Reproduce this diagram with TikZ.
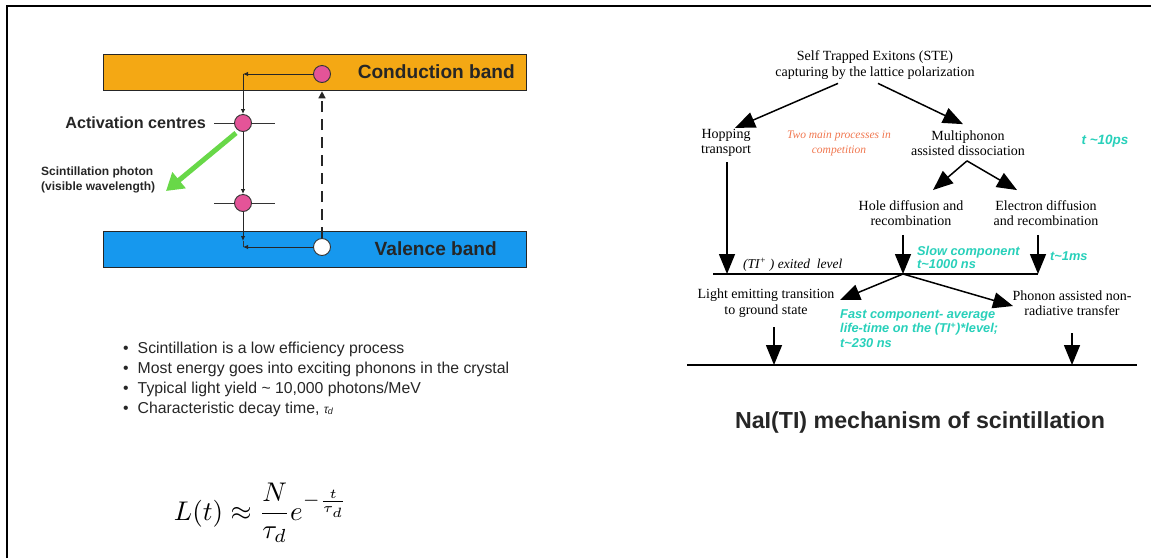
\documentclass[tikz,border=0pt]{standalone}
\usepackage{fontspec}
\setmainfont{Liberation Serif}
\setsansfont{Liberation Sans}
\usetikzlibrary{arrows.meta,calc}
\definecolor{orangeb}{RGB}{244,168,20}
\definecolor{blueb}{RGB}{22,152,238}
\definecolor{pinkc}{RGB}{228,84,152}
\definecolor{greenc}{RGB}{104,216,72}
\definecolor{tealc}{RGB}{40,208,186}
\definecolor{orangetxt}{RGB}{240,118,78}
\tikzset{
  band/.style={draw=black!85, line width=1.3pt, anchor=north west, inner sep=0pt, minimum width=423pt, minimum height=36pt},
  dot/.style={circle, draw=black!80, line width=0.9pt, minimum size=17pt, inner sep=0pt},
  lvl/.style={line width=0.9pt, black!80},
  elec/.style={line width=0.9pt, black!85, -{Latex[length=5pt,width=4.5pt]}},
  bigarrow/.style={line width=1.5pt, -{Triangle[length=20pt,width=16pt]}},
  serif/.style={font=\fontsize{14}{15.5}\selectfont, align=center, inner sep=0pt},
  tealtxt/.style={text=tealc, font=\sffamily\bfseries\itshape\fontsize{12.8}{13}\selectfont, align=left, inner sep=0pt},
  bullet/.style={font=\sffamily\fontsize{15.8}{18}\selectfont, anchor=west, inner sep=0pt, text=black!85},
  bandtxt/.style={font=\sffamily\bfseries\fontsize{19.1}{21}\selectfont, anchor=east, inner sep=0pt, text=black!85},
}
\begin{document}
\begin{tikzpicture}[x=1pt,y=-1pt]
\useasboundingbox (0,0) rectangle (1151,558);
% frame
\draw[line width=2pt] (7,558) -- (7,6) -- (1151,6);

% ---------- left: band diagram ----------
\node[band, fill=orangeb] (cb) at (103,54) {};
\node[band, fill=blueb] (vb) at (103,231) {};
\node[bandtxt] (cbt) at (515,72) {Conduction band};
\node[bandtxt] (vbt) at (497,249) {Valence band};

\coordinate (c1) at (243,74);
\coordinate (c2) at (243,247);
\coordinate (c3) at (243,241);
\coordinate (l1a) at (214,123);
\coordinate (l1b) at (275,123);
\coordinate (l2a) at (214,203);
\coordinate (l2b) at (275,203);
\draw[lvl] (l1a) -- (l1b);
\draw[lvl] (l2a) -- (l2b);

\node[dot, fill=pinkc] (e1) at (322,74) {};
\node[dot, fill=pinkc] (a1) at (243,123) {};
\node[dot, fill=pinkc] (a2) at (243,203) {};
\node[dot, fill=white] (h1) at (322,247) {};

\draw[elec] (e1.west) -- (c1);
\draw[elec] (c1) -- (a1.north);
\draw[elec] (a1.south) -- (a2.north);
\draw[elec] (a2.south) -- (c3);
\draw[lvl] (c3) -- (c2);
\draw[elec] (h1.west) -- (c2);
\draw[line width=1.4pt, black!85, dash pattern=on 11pt off 7pt, -{Triangle[length=7pt,width=7pt]}] (h1.north) -- (h1.north |- cb.south);

\node[font=\sffamily\bfseries\fontsize{16.2}{18}\selectfont, anchor=east, inner sep=0pt, text=black!85] (act) at (206,123) {Activation centres};
\coordinate (gtip) at (166,191);
\draw[line width=5pt, greenc, -{Triangle[length=17pt,width=20pt]}] ($(a1)+(-7,10)$) -- (gtip);
\node[font=\sffamily\bfseries\fontsize{12}{15}\selectfont, anchor=west, align=left, inner sep=0pt, text=black!85] (ph) at (41,180) {Scintillation photon\\(visible wavelength)};

% bullets
\node[bullet] (b1) at (123,349) {\textbullet\hspace{9pt}Scintillation is a low efficiency process};
\node[bullet] (b2) at (123,369) {\textbullet\hspace{9pt}Most energy goes into exciting phonons in the crystal};
\node[bullet] (b3) at (123,389) {\textbullet\hspace{9pt}Typical light yield \textasciitilde\ 10,000 photons/MeV};
\node[bullet] (b4) at (123,409) {\textbullet\hspace{9pt}Characteristic decay time, {\itshape\fontsize{12}{12}\selectfont τ\kern-0.5pt\raisebox{-1.5pt}{\fontsize{9}{9}\selectfont d}}};

\node[scale=2.7, inner sep=0pt] (eq) at (261,513) {$\displaystyle L(t)\approx\frac{N}{\tau_d}e^{-\frac{t}{\tau_d}}$};

% ---------- right: NaI(Tl) mechanism ----------
\node[serif] (ste) at (875,65) {Self Trapped Exitons (STE)\\capturing by the lattice polarization};
\node[serif] (hop) at (726,143) {Hopping\\transport};
\node[font=\itshape\fontsize{11.5}{15}\selectfont, text=orangetxt, align=center, inner sep=0pt] (two) at (839,143) {Two main processes in\\competition};
\node[serif] (multi) at (968,143) {Multiphonon\\assisted dissociation};
\node[tealtxt, font=\sffamily\bfseries\itshape\fontsize{13.5}{15}\selectfont] (t10) at (1105,141) {t \textasciitilde10ps};
\node[serif] (hole) at (911,213) {Hole diffusion and\\recombination};
\node[serif] (eld) at (1046,213) {Electron diffusion\\and recombination};

\draw[bigarrow] ($(ste.south)+(-37,4)$) -- ($(hop.north)+(9,-1)$);
\draw[bigarrow] ($(ste.south)+(3,4)$) -- ($(multi.north)+(-5,-6)$);
\draw[bigarrow] ($(multi.south)+(-1,5)$) -- ($(hole.north)+(22,-10)$);
\draw[bigarrow] ($(multi.south)+(-1,5)$) -- ($(eld.north)+(-29,-10)$);

\coordinate (lvL) at (713,274);
\coordinate (lvR) at (1038,274);
\coordinate (fk) at (903,274);
\coordinate (hopEnd) at (727,274);
\coordinate (hopStart) at (727,162);
\draw[line width=1.5pt] (lvL) -- (lvR);
\draw[bigarrow] (hopStart) -- (hopEnd);
\draw[bigarrow] ($(hole.south)+(-8,9)$) -- (fk);
\draw[bigarrow] ($(eld.south)+(-8,9)$) -- (lvR);

\node[font=\itshape\fontsize{13.5}{15}\selectfont, anchor=west, inner sep=0pt] (exl) at (743,265) {(TI\textsuperscript{+} ) exited\ \ level};
\node[tealtxt, anchor=west] (slow) at (917,257) {Slow component\\t\textasciitilde1000 ns};
\node[tealtxt, anchor=west] (t1ms) at (1050,256) {t\textasciitilde1ms};

\node[serif] (light) at (766,303) {Light emitting transition\\to ground state};
\node[serif] (phon) at (1072,303) {Phonon assisted non-\\radiative transfer};
\node[tealtxt, anchor=north west, font=\sffamily\bfseries\itshape\fontsize{12.8}{14.5}\selectfont] (fast) at (840,309) {Fast component- average\\life-time on the (TI\textsuperscript{+})*level;\\t\textasciitilde230 ns};

\coordinate (tipL) at (840,300);
\coordinate (tipR) at (1013,306);
\draw[bigarrow] (fk) -- (tipL);
\draw[bigarrow] (fk) -- (tipR);

\coordinate (gL) at (687,365);
\coordinate (gR) at (1137,365);
\coordinate (lightStart) at (774,327);
\coordinate (lightEnd) at (774,365);
\coordinate (phonStart) at (1072,333);
\coordinate (phonEnd) at (1072,365);
\draw[line width=1.5pt] (gL) -- (gR);
\draw[bigarrow] (lightStart) -- (lightEnd);
\draw[bigarrow] (phonStart) -- (phonEnd);

\node[font=\sffamily\bfseries\fontsize{23.2}{26}\selectfont, inner sep=0pt, text=black!85] (title) at (920,422) {NaI(TI) mechanism of scintillation};
\end{tikzpicture}
\end{document}
